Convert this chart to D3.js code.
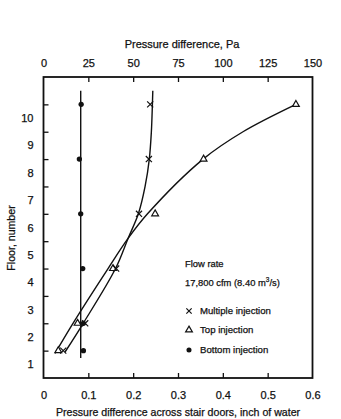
<!DOCTYPE html>
<html><head><meta charset="utf-8">
<script src="https://cdn.jsdelivr.net/npm/d3@7"></script>
<style>
body{margin:0;background:#fff;}
svg text{font-family:"Liberation Sans",Arial,sans-serif;fill:#111;stroke:#111;stroke-width:0.25px;}
</style></head>
<body><svg id="c" width="341" height="419"></svg>
<script>
// Measured points (floor, pressure difference in inch of water)
const floors = [1, 2, 4, 6, 8, 10];
const multipleInjection = [0.044, 0.093, 0.162, 0.213, 0.235, 0.238];
const topInjection = [0.033, 0.076, 0.155, 0.249, 0.357, 0.563];
const bottomInjection = [0.089, 0.089, 0.0875, 0.083, 0.080, 0.084];

// Hand-drawn fitted curves
const multipleFitFloors = [0.95, 2, 4, 5.1, 6, 7, 8, 9, 10, 10.5];
const multipleFitValues = [0.048, 0.0886, 0.1607, 0.1886, 0.2116, 0.2266, 0.236, 0.2406, 0.2429, 0.2438];
const topFitFloors = [0.9, 2, 4, 5.1, 6, 8, 9, 10];
const topFitValues = [0.0257, 0.0658, 0.144, 0.1886, 0.232, 0.356, 0.445, 0.563];
const bottomFitFloors = [0.73, 10.5];
const bottomFitValues = [0.083, 0.083];

const xTicks = [0, 0.1, 0.2, 0.3, 0.4, 0.5, 0.6];
const paTicks = [0, 25, 50, 75, 100, 125, 150];
const floorTicks = [1, 2, 3, 4, 5, 6, 7, 8, 9, 10];

const svg = d3.select("#c");
const L = 43.5, R = 312.5, T = 77, B = 378;
const x = d3.scaleLinear().domain([0, 0.6]).range([L, R]);
const xPa = d3.scaleLinear().domain([0, 150]).range([L, R]);
const y = d3.scaleLinear().domain([0, 11]).range([B, T]);

// frame
svg.append("rect").attr("x", L).attr("y", T).attr("width", R - L).attr("height", B - T)
  .attr("fill", "none").attr("stroke", "#111").attr("stroke-width", 1.8);

function styleAxis(g, fs) {
  g.select(".domain").remove();
  g.selectAll("line").attr("stroke", "#111").attr("stroke-width", 1.3);
  g.selectAll("text").attr("font-size", fs).attr("fill", "#111");
}

// bottom axis
const gb = svg.append("g").attr("transform", `translate(0,${B})`)
  .call(d3.axisBottom(x).tickValues(xTicks).tickSize(-5).tickPadding(13)
    .tickFormat(d => d === 0 ? "0" : d3.format(".1f")(d)));
styleAxis(gb, 11);
gb.selectAll(".tick").filter(d => d === 0 || d === 0.6).select("line").remove();

// top axis
const gt = svg.append("g").attr("transform", `translate(0,${T})`)
  .call(d3.axisTop(xPa).tickValues(paTicks).tickSize(-5).tickPadding(10));
styleAxis(gt, 11);
gt.selectAll(".tick").filter(d => d === 0 || d === 150).select("line").remove();

// left axis ticks
const gl = svg.append("g").attr("transform", `translate(${L},0)`)
  .call(d3.axisLeft(y).tickValues(floorTicks).tickSize(-5).tickFormat(""));
styleAxis(gl, 11);
// left labels between ticks
const gl2 = svg.append("g").attr("transform", `translate(${L},0)`)
  .call(d3.axisLeft(y).tickValues(floorTicks.map(f => f - 0.5)).tickSize(0).tickPadding(10)
    .tickFormat(d => String(d + 0.5)));
styleAxis(gl2, 11);

// titles
svg.append("text").attr("x", 182).attr("y", 48).attr("text-anchor", "middle")
  .attr("font-size", 11).text("Pressure difference, Pa");
svg.append("text").attr("x", 178).attr("y", 416).attr("text-anchor", "middle")
  .attr("font-size", 10.6).text("Pressure difference across stair doors, inch of water");
svg.append("text").attr("transform", "translate(15,238) rotate(-90)").attr("text-anchor", "middle")
  .attr("font-size", 10.6).text("Floor, number");

// curves
const line = d3.line().x(d => x(d[1])).y(d => y(d[0])).curve(d3.curveCatmullRom.alpha(0.5));
function drawFit(fl, vals) {
  svg.append("path").datum(fl.map((f, i) => [f, vals[i]])).attr("d", line)
    .attr("fill", "none").attr("stroke", "#111").attr("stroke-width", 1.4);
}
drawFit(multipleFitFloors, multipleFitValues);
drawFit(topFitFloors, topFitValues);
drawFit(bottomFitFloors, bottomFitValues);

// markers
const sym = {
  cross: d3.symbol().type(d3.symbolX).size(26),
  tri: d3.symbol().type(d3.symbolTriangle).size(20),
  dot: d3.symbol().type(d3.symbolCircle).size(22)
};
function drawMarks(vals, kind) {
  svg.append("g").selectAll("path").data(floors.map((f, i) => [f, vals[i]])).join("path")
    .attr("transform", d => `translate(${x(d[1])},${y(d[0])})`)
    .attr("d", sym[kind]())
    .attr("fill", kind === "dot" ? "#111" : "#fff")
    .attr("stroke", "#111").attr("stroke-width", kind === "dot" ? 0 : 1.2);
}
drawMarks(topInjection, "tri");
drawMarks(multipleInjection, "cross");
drawMarks(bottomInjection, "dot");

// legend
const lg = svg.append("g");
lg.append("text").attr("x", 185).attr("y", 266.5).attr("font-size", 9.4).text("Flow rate");
const t2 = lg.append("text").attr("x", 185).attr("y", 285.5).attr("font-size", 9.4);
t2.append("tspan").text("17,800 cfm (8.40 m");
t2.append("tspan").attr("dy", -3.5).attr("font-size", 6.5).text("3");
t2.append("tspan").attr("dy", 3.5).text("/s)");
const items = [["cross", "Multiple injection", 311], ["tri", "Top injection", 330], ["dot", "Bottom injection", 350]];
items.forEach(([k, label, yy]) => {
  lg.append("path").attr("transform", `translate(189,${yy})`)
    .attr("d", d3.symbol().type(k === "cross" ? d3.symbolX : k === "tri" ? d3.symbolTriangle : d3.symbolCircle)
      .size(k === "dot" ? 20 : 20)())
    .attr("fill", k === "dot" ? "#111" : "#fff").attr("stroke", "#111")
    .attr("stroke-width", k === "dot" ? 0 : 1.2);
  lg.append("text").attr("x", 200).attr("y", yy + 3.3).attr("font-size", 9.6).text(label);
});
</script></body></html>
